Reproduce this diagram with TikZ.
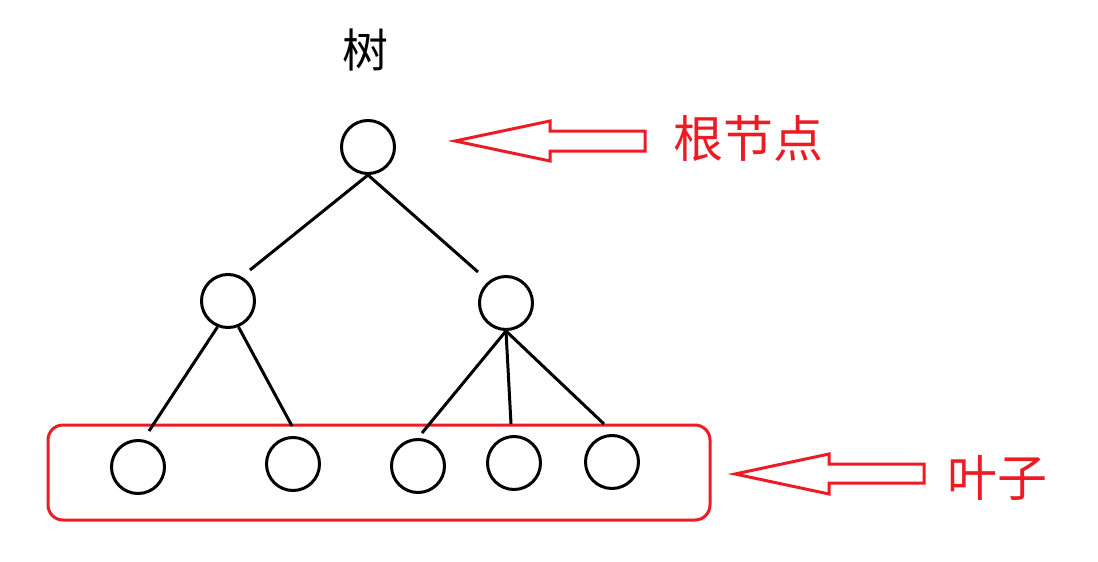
\documentclass[tikz,border=0pt]{standalone}
\usepackage{fontspec}
\newfontfamily\cjk{Noto Sans CJK SC}
\usetikzlibrary{positioning}
\definecolor{paintred}{RGB}{237,28,36}

\begin{document}
\begin{tikzpicture}[x=1pt,y=-1pt]
\tikzset{
  title/.style={text=black,font=\cjk\fontsize{46}{46}\selectfont,inner sep=0pt},
  tag/.style={text=paintred,font=\cjk\fontsize{50}{50}\selectfont,inner sep=0pt},
  vertex/.style={circle,draw=black,line width=3pt,minimum size=53pt,inner sep=0pt},
  edge/.style={draw=black,line width=3pt},
  pointer/.style={draw=paintred,line width=3pt,line join=miter},
  group/.style={rectangle,rounded corners=15pt,draw=paintred,line width=3pt,minimum width=662pt,minimum height=95pt},
}
\useasboundingbox (0,0) rectangle (1098,562);
\node[title] (tree) at (365,50) {树};
%
\node[vertex] (root) at (368,147) {};
\node[vertex] (lchild) at (228,301) {};
\node[vertex] (rchild) at (506,303) {};
\node[group] (leaves) at (379,472.5) {};
\node[vertex] (leaf1) at (138,467) {};
\node[vertex] (leaf2) at (293,464) {};
\node[vertex] (leaf3) at (418,466) {};
\node[vertex] (leaf4) at (514,463) {};
\node[vertex] (leaf5) at (612,462) {};
%
\coordinate (lend) at (250,270);
\coordinate (rend) at (478,272);
\coordinate (l1end) at (149,431);
\coordinate (l2end) at (292,426);
\coordinate (l3end) at (422,433);
\coordinate (l4end) at (511,424);
\coordinate (l5end) at (604,424);
\path[edge] (root.south) -- (lend);
\path[edge] (root.south) -- (rend);
\path[edge] (lchild.-112) -- (l1end);
\path[edge] (lchild.-68) -- (l2end);
\path[edge] (rchild.south) -- (l3end);
\path[edge] (rchild.south) -- (l4end);
\path[edge] (rchild.south) -- (l5end);
%
\coordinate (roottip) at (455,141);
\coordinate (leaftip) at (735,474);
\draw[pointer] (roottip) -- ++(95,-20) -- ++(0,10) -- ++(95,0) -- ++(0,20) -- ++(-95,0) -- ++(0,10) -- cycle;
\draw[pointer] (leaftip) -- ++(94,-20) -- ++(0,10) -- ++(95,0) -- ++(0,19) -- ++(-95,0) -- ++(0,11) -- cycle;
\node[tag] (rootlabel) at (748,138) {根节点};
\node[tag] (leaflabel) at (997,478) {叶子};
\end{tikzpicture}
\end{document}
